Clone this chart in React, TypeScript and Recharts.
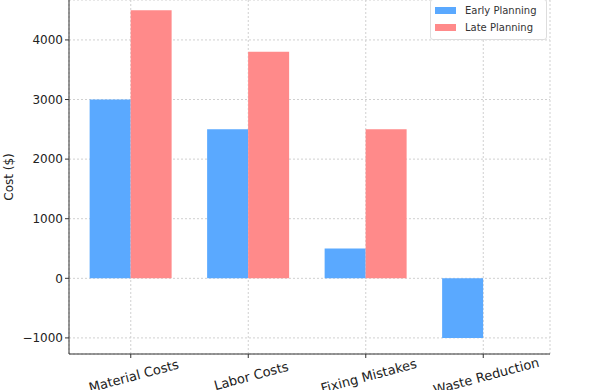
import { BarChart, Bar, XAxis, YAxis, CartesianGrid, Legend } from 'recharts'

const categories = ['Material Costs', 'Labor Costs', 'Fixing Mistakes', 'Waste Reduction']
const earlyPlanning = [3000, 2500, 500, -1000]
const latePlanning = [4500, 3800, 2500, 0]
const yTicks = [-1000, 0, 1000, 2000, 3000, 4000]

const data = categories.map((c, i) => ({ name: c, early: earlyPlanning[i], late: latePlanning[i] }))

const font = '"DejaVu Sans", sans-serif'
const BLUE = '#5aa9ff'
const RED = '#ff8a8a'

const XTick = ({ x, y, payload }: any) => {
    const cy = y + 16
    return (
        <text x={x + 3} y={cy} textAnchor="middle" dominantBaseline="central" fontSize={13}
            fontFamily={font} fill="#222" transform={`rotate(-15, ${x + 3}, ${cy})`}>
            {payload.value}
        </text>
    )
}

const LegendBox = () => (
    <div style={{
        border: '1px solid #ddd', borderRadius: 3, background: '#fff', padding: '2px 6px 3px 4px',
        fontFamily: font, fontSize: 10, color: '#333', lineHeight: '17px'
    }}>
        {[['Early Planning', BLUE], ['Late Planning', RED]].map(([label, color]) => (
            <div key={label} style={{ display: 'flex', alignItems: 'center' }}>
                <span style={{ display: 'inline-block', width: 21, height: 7, background: color, marginRight: 9 }} />
                {label}
            </div>
        ))}
    </div>
)

const App = () => {
    return (
        <div style={{ position: 'absolute', left: 0, top: 0, width: 590, height: 390, overflow: 'hidden', background: '#fff' }}>
            <BarChart width={590} height={390} data={data} barCategoryGap="15%" barGap={0}
                margin={{ top: 0, right: 40, bottom: 0, left: 0 }}>
                <CartesianGrid stroke="#d0d0d0" strokeDasharray="2 2" />
                <XAxis dataKey="name" height={36} padding={{ left: 3, right: 8 }} tick={<XTick />}
                    tickSize={4} stroke="#333" interval={0} />
                <YAxis width={69} domain={[-1270, 4670]} ticks={yTicks} allowDataOverflow
                    tickSize={4} tickMargin={2} stroke="#333"
                    tick={{ fontSize: 12, fontFamily: font, fill: '#222' }}
                    tickFormatter={(v) => String(v).replace('-', '\u2212')} />
                <Legend layout="horizontal" verticalAlign="middle" align="center"
                    wrapperStyle={{ top: -1, left: 430, width: 117 }} content={<LegendBox />} />
                <Bar dataKey="early" fill={BLUE} isAnimationActive={false} />
                <Bar dataKey="late" fill={RED} isAnimationActive={false} />
                <text x={9} y={177} textAnchor="middle" dominantBaseline="central" fontSize={12}
                    fontFamily={font} fill="#222" transform="rotate(-90, 9, 177)">Cost ($)</text>
            </BarChart>
        </div>
    )
}

export default App
